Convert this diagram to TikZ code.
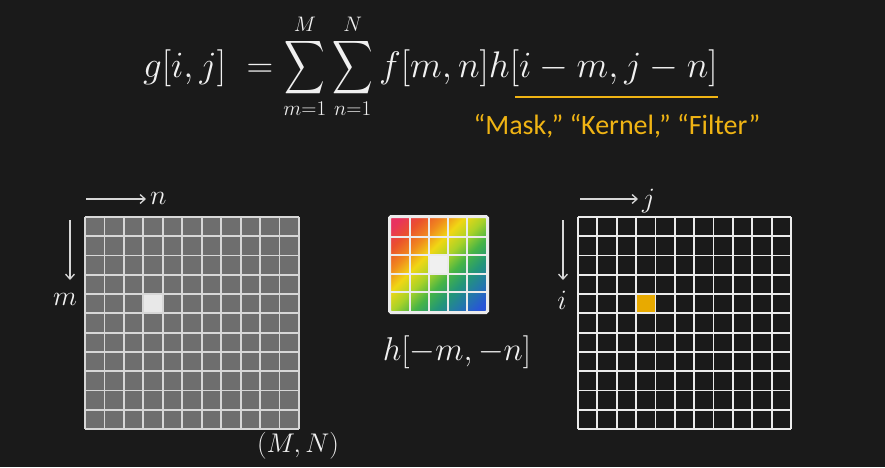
\RequirePackage{fix-cm}
\documentclass[tikz,border=0pt]{standalone}
\usepackage{amsmath}
\usepackage{exscale}
\usepackage{graphicx}
\usepackage{fontspec}
\newfontfamily\cali{Carlito}
\DeclareMathSizes{37}{37}{21}{16}
\newcommand{\bigSum}{\mathop{\vcenter{\hbox{\scalebox{1.13}[1.5]{$\displaystyle\sum$}}}}\limits}
\newcommand{\updepth}{\rule[-4pt]{0pt}{4pt}}
\usetikzlibrary{arrows.meta}
\definecolor{bg}{RGB}{26,26,26}
\definecolor{txt}{RGB}{240,240,240}
\definecolor{cellgray}{RGB}{110,110,110}
\definecolor{linegray}{RGB}{215,215,215}
\definecolor{hiwhite}{RGB}{232,232,232}
\definecolor{gold}{RGB}{232,170,0}
\definecolor{maskc}{RGB}{240,180,20}
\definecolor{kA}{RGB}{232,50,95}
\definecolor{kB}{RGB}{234,80,45}
\definecolor{kC}{RGB}{240,135,30}
\definecolor{kD}{RGB}{240,215,20}
\definecolor{kE}{RGB}{170,210,40}
\definecolor{kF}{RGB}{70,180,70}
\definecolor{kG}{RGB}{35,150,120}
\definecolor{kH}{RGB}{35,120,170}
\definecolor{kI}{RGB}{40,85,215}
\pgfdeclarehorizontalshading{kernshade}{100bp}{color(0bp)=(kA); color(18bp)=(kA); color(26bp)=(kB); color(34bp)=(kC); color(42bp)=(kD); color(50bp)=(kE); color(58bp)=(kF); color(66bp)=(kG); color(74bp)=(kH); color(82bp)=(kI); color(100bp)=(kI)}
\tikzset{
  gline/.style={draw=linegray, line width=1.8pt},
  wline/.style={draw=white!92!black, line width=1.8pt},
  axarrow/.style={draw=linegray, line width=1.3pt, -{Straight Barb[length=5pt,width=9pt]}},
  lbl/.style={text=txt, inner sep=0pt, font=\fontsize{28}{32}\selectfont},
}
\begin{document}
\begin{tikzpicture}[x=1pt,y=-1pt]
\useasboundingbox[fill=bg] (0,0) rectangle (885,467);

% formula
\node[text=txt, anchor=base west, inner sep=0pt, font=\fontsize{37}{42}\selectfont] (formula) at (143,77)
  {$\displaystyle g[i,j]\;=\bigSum_{m=1}^{\updepth M}\bigSum_{n=1}^{\updepth N} f[m,n]h[i-m,j-n]$};
\coordinate (ulA) at (515,97);
\coordinate (ulB) at (718,97);
\draw[maskc, line width=1.6pt] (ulA) -- (ulB);
\node[text=maskc, anchor=base, inner sep=0pt, font=\cali\fontsize{28}{32}\selectfont] (mask) at (617,134) {“Mask,” “Kernel,” “Filter”};

% left grid
\fill[cellgray] (85,217) rectangle (299,429);
\fill[hiwhite] ({85+3*214/11},{217+4*212/11}) rectangle ({85+4*214/11},{217+5*212/11});
\foreach \k in {0,...,11} {
  \draw[gline] ({85+\k*214/11},217) -- ({85+\k*214/11},429);
  \draw[gline] (85,{217+\k*212/11}) -- (299,{217+\k*212/11});
}
\node[draw=none, minimum width=214pt, minimum height=212pt, inner sep=0pt] (fgrid) at (192,323) {};

% right grid
\fill[gold] ({578+3*213/11},{217+4*212/11}) rectangle ({578+4*213/11},{217+5*212/11});
\foreach \k in {0,...,11} {
  \draw[wline] ({578+\k*213/11},217) -- ({578+\k*213/11},429);
  \draw[wline] (578,{217+\k*212/11}) -- (791,{217+\k*212/11});
}
\node[draw=none, minimum width=213pt, minimum height=212pt, inner sep=0pt] (ggrid) at (684.5,323) {};

% axes arrows left
\coordinate (nA) at (86,199); \coordinate (nB) at (146,199);
\draw[axarrow] (nA) -- (nB);
\node[lbl, anchor=west] (nlbl) at (150,198) {$n$};
\coordinate (mA) at (70,220); \coordinate (mB) at (70,280);
\draw[axarrow] (mA) -- (mB);
\node[lbl] (mlbl) at (65,299) {$m$};

% axes arrows right
\coordinate (jA) at (580,199); \coordinate (jB) at (638,199);
\draw[axarrow] (jA) -- (jB);
\node[lbl, anchor=west] (jlbl) at (642,201) {$j$};
\coordinate (iA) at (563,220); \coordinate (iB) at (563,280);
\draw[axarrow] (iA) -- (iB);
\node[lbl] (ilbl) at (562,300) {$i$};

% kernel
\shade[shading=kernshade, shading angle=-45] (391,218) rectangle (486,311);
\fill[white!94!black] ({391+2*95/5},{218+2*93/5}) rectangle ({391+3*95/5},{218+3*93/5});
\foreach \k in {1,...,4} {
  \draw[draw=white!92!black, line width=2pt] ({391+\k*95/5},218) -- ({391+\k*95/5},311);
  \draw[draw=white!92!black, line width=2pt] (391,{218+\k*93/5}) -- (486,{218+\k*93/5});
}
\draw[draw=white!92!black, line width=3pt, rounded corners=1.5pt] (389.5,216.5) rectangle (487.5,312.5);
\node[draw=none, minimum width=98pt, minimum height=96pt, inner sep=0pt] (kernel) at (438.5,264.5) {};
\node[text=txt, inner sep=0pt, font=\fontsize{33}{38}\selectfont] (hlbl) at (457,352) {$h[-m,-n]$};

% (M,N)
\node[text=txt, inner sep=0pt, font=\fontsize{27}{32}\selectfont] (MN) at (298,446) {$(M,N)$};
\end{tikzpicture}
\end{document}
